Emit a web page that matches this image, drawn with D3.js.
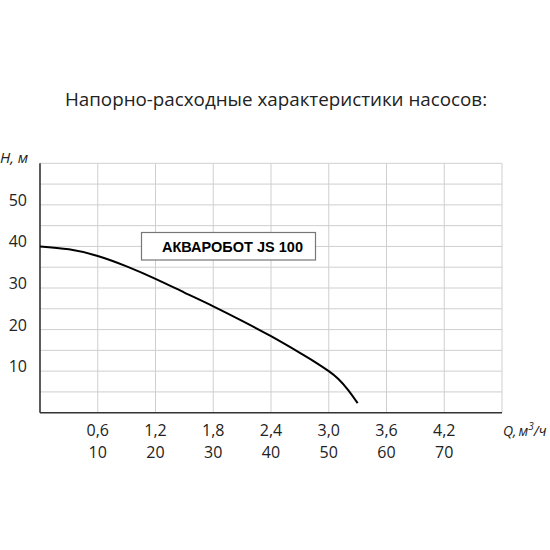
<!DOCTYPE html>
<html>
<head>
<meta charset="utf-8">
<script src="https://cdn.jsdelivr.net/npm/d3@7"></script>
<style>
  body { margin: 0; background: #fff; }
  svg text { font-family: "Open Sans", "Noto Sans", sans-serif; fill: #222; }
</style>
</head>
<body>
<div id="chart"></div>
<script>
// pump curve
const flowM3h = [0, 0.3, 0.6, 0.9, 1.2, 1.5, 1.8, 2.1, 2.4, 2.7, 2.85, 3.0, 3.1, 3.2, 3.3]
const headM = [40, 39.3, 37.7, 35.2, 32.2, 28.9, 25.6, 22.1, 18.4, 14.4, 12.3, 10.0, 8.1, 5.5, 2.3]

const qTicks = [0.6, 1.2, 1.8, 2.4, 3.0, 3.6, 4.2]
const qTickLabels = ["0,6", "1,2", "1,8", "2,4", "3,0", "3,6", "4,2"]
const lpmTickLabels = ["10", "20", "30", "40", "50", "60", "70"]
const hTicks = [10, 20, 30, 40, 50]
const hMinorTicks = [5, 15, 25, 35, 45, 55, 60]
const seriesName = "АКВАРОБОТ JS 100"
const title = "Напорно-расходные характеристики насосов:"

const width = 550, height = 550
const plotLeft = 40, plotRight = 502, plotTop = 163.3, plotBottom = 412.7

const svg = d3.select("#chart")
    .append("svg")
    .attr("width", width)
    .attr("height", height)

let x = d3.scaleLinear().domain([0, 4.8]).range([plotLeft, plotRight])
let y = d3.scaleLinear().domain([0, 60]).range([plotBottom, plotTop])

// title
svg.append("text")
    .attr("x", 276)
    .attr("y", 106)
    .attr("text-anchor", "middle")
    .style("font-size", "18.8px")
    .text(title)

// grid
let grid = svg.append("g").attr("stroke", "#cfcfcf").attr("stroke-width", 1)
grid.selectAll("line.v")
    .data(qTicks.concat([4.8]))
    .enter()
    .append("line")
    .attr("x1", d => x(d)).attr("x2", d => x(d))
    .attr("y1", plotTop).attr("y2", plotBottom)
grid.selectAll("line.h")
    .data(hTicks.concat(hMinorTicks))
    .enter()
    .append("line")
    .attr("x1", plotLeft).attr("x2", plotRight)
    .attr("y1", d => y(d)).attr("y2", d => y(d))

// axes
svg.append("line")
    .attr("x1", plotLeft).attr("x2", plotLeft)
    .attr("y1", plotTop).attr("y2", plotBottom)
    .attr("stroke", "#333").attr("stroke-width", 1.6)
svg.append("line")
    .attr("x1", plotLeft).attr("x2", plotRight)
    .attr("y1", plotBottom).attr("y2", plotBottom)
    .attr("stroke", "#333").attr("stroke-width", 1.6)

// y labels
svg.append("g").selectAll("text")
    .data(hTicks)
    .enter()
    .append("text")
    .attr("x", 27)
    .attr("y", d => y(d) + 1)
    .attr("text-anchor", "end")
    .style("font-size", "16px")
    .text(d => d)

svg.append("text")
    .attr("x", 0)
    .attr("y", 163)
    .style("font-size", "15px")
    .style("font-style", "italic")
    .text("H, м")

// x labels, two rows
svg.append("g").selectAll("text")
    .data(qTicks)
    .enter()
    .append("text")
    .attr("x", d => x(d))
    .attr("y", 436)
    .attr("text-anchor", "middle")
    .style("font-size", "16px")
    .text((d, i) => qTickLabels[i])
svg.append("g").selectAll("text")
    .data(qTicks)
    .enter()
    .append("text")
    .attr("x", d => x(d))
    .attr("y", 458)
    .attr("text-anchor", "middle")
    .style("font-size", "16px")
    .text((d, i) => lpmTickLabels[i])

let qLabel = svg.append("text")
    .attr("x", 503)
    .attr("y", 436)
    .style("font-size", "14px")
    .style("font-style", "italic")
qLabel.append("tspan").text("Q,")
qLabel.append("tspan").attr("dx", 2).text("м")
qLabel.append("tspan").attr("dy", -6).style("font-size", "10px").text("3")
qLabel.append("tspan").attr("dy", 6).text("/ч")

// curve
let pts = flowM3h.map((q, i) => [q, headM[i]])
svg.append("path")
    .datum(pts)
    .attr("fill", "none")
    .attr("stroke", "#000")
    .attr("stroke-width", 2)
    .attr("d", d3.line()
        .x(d => x(d[0]))
        .y(d => y(d[1]))
        .curve(d3.curveNatural))

// legend box
svg.append("rect")
    .attr("x", 141.5).attr("y", 232.5)
    .attr("width", 174).attr("height", 27.5)
    .attr("fill", "#fff")
    .attr("stroke", "#777").attr("stroke-width", 1.2)
svg.append("text")
    .attr("x", 162)
    .attr("y", 251.5)
    .attr("textLength", 141)
    .attr("lengthAdjust", "spacing")
    .style("font-family", "'Liberation Sans', Arial, sans-serif")
    .style("font-weight", "bold")
    .style("font-size", "14.5px")
    .style("fill", "#000")
    .text(seriesName)
</script>
</body>
</html>
